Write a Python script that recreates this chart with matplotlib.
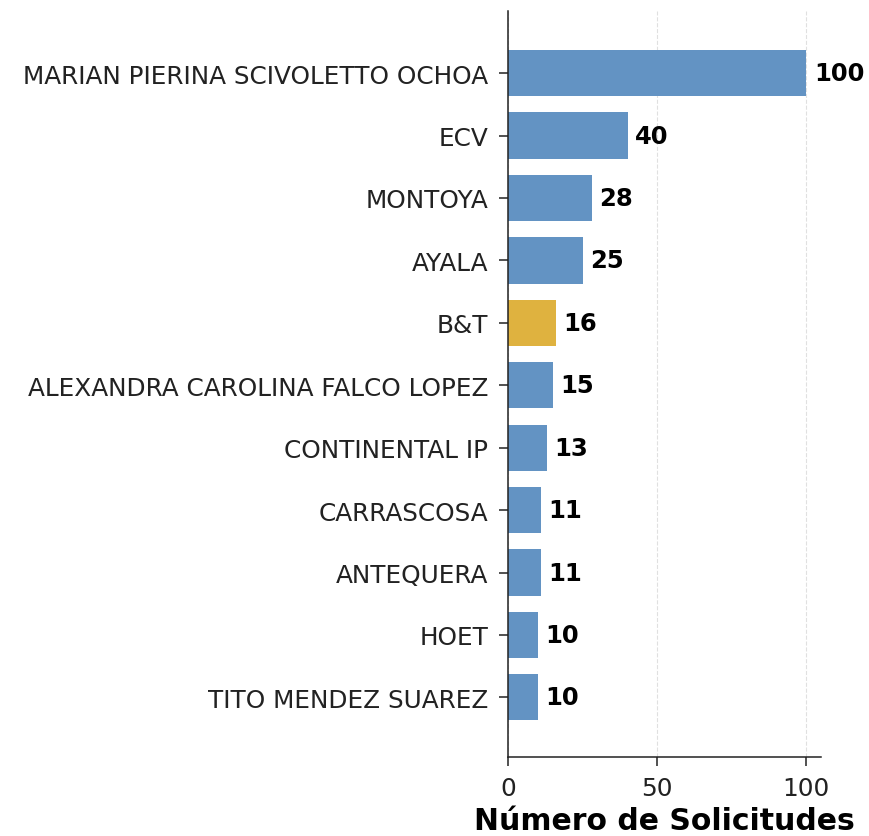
import matplotlib.pyplot as plt

# Datos: agentes y número de solicitudes
agentes = ['MARIAN PIERINA SCIVOLETTO OCHOA', 'ECV', 'MONTOYA', 'AYALA', 'B&T',
           'ALEXANDRA CAROLINA FALCO LOPEZ', 'CONTINENTAL IP', 'CARRASCOSA',
           'ANTEQUERA', 'HOET', 'TITO MENDEZ SUAREZ']
solicitudes = [100, 40, 28, 25, 16, 15, 13, 11, 11, 10, 10]
destacado = 'B&T'

colores = ['#DFB23F' if a == destacado else '#6393C3' for a in agentes]

fig = plt.figure(figsize=(8.69, 8.37), dpi=100)
ax = fig.add_axes([0.585, 0.094, 0.36, 0.892])

barras = ax.barh(agentes, solicitudes, color=colores, height=0.74)
ax.set_ylim(10.96, -1.0)

# Etiquetas de valor al final de cada barra
for b, v in zip(barras, solicitudes):
    ax.text(b.get_width() + 2.5, b.get_y() + b.get_height() / 2, str(v),
            va='center', ha='left', fontsize=17.5, fontweight='bold')

ax.set_xlim(0, 105)
ax.set_xticks([0, 50, 100])
ax.set_xlabel('Número de Solicitudes', fontsize=21.5, fontweight='bold', labelpad=4)
ax.tick_params(axis='both', labelsize=17.8, length=6.5, width=1.1, colors='#222222')
ax.tick_params(axis='x', pad=7)
ax.tick_params(axis='y', pad=8)
ax.grid(axis='x', linestyle='--', color='#cccccc', alpha=0.6)
ax.set_axisbelow(True)
ax.spines['top'].set_visible(False)
ax.spines['right'].set_visible(False)
for s in ['left', 'bottom']:
    ax.spines[s].set_linewidth(1.1)
    ax.spines[s].set_color('#222222')

fig.savefig('out.png', dpi=100)
